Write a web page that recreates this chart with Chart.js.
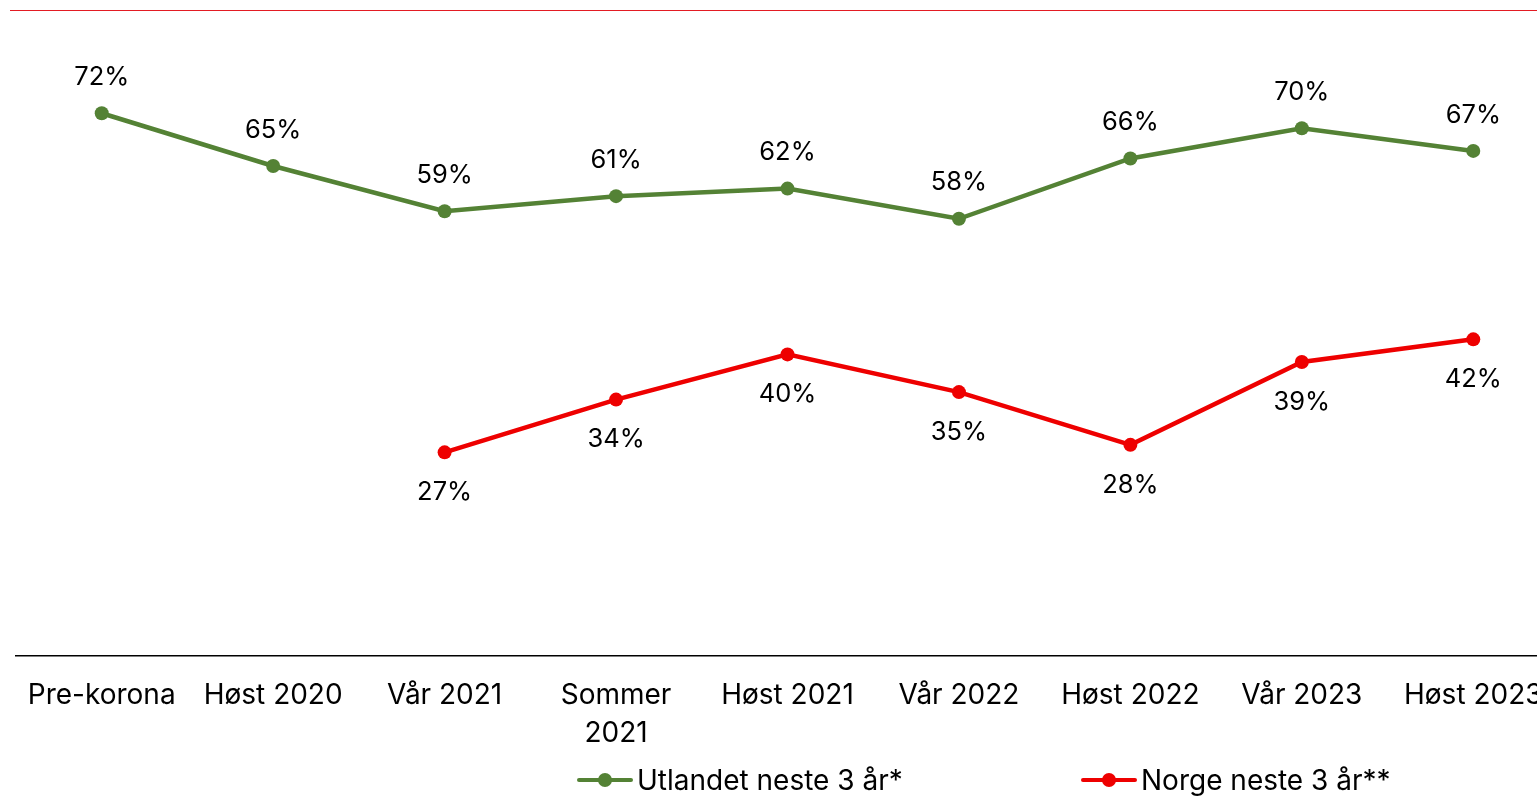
<!DOCTYPE html>
<html>
<head>
<meta charset="utf-8">
<script src="https://cdn.jsdelivr.net/npm/chart.js@4/dist/chart.umd.min.js"></script>
<style>
  html,body{margin:0;padding:0;background:#fff;overflow:hidden;width:1537px;height:796px}
  #wrap{position:absolute;left:0;top:0;width:1566px;height:796px}
  .legend{position:absolute;top:764px;display:flex;align-items:center;font-family:Inter,'Noto Sans',sans-serif;font-size:28px;line-height:32px;color:#000;white-space:nowrap}
  .mk{position:relative;width:56px;height:14px;margin-right:4px}
  .mk .ln{position:absolute;left:0;right:0;top:5px;height:4px;border-radius:2px}
  .mk .dt{position:absolute;left:21px;top:0;width:14px;height:14px;border-radius:50%}
</style>
</head>
<body>
<div id="wrap"><canvas id="chart" width="1566" height="796"></canvas></div>
<div class="legend" style="left:577px"><div class="mk"><div class="ln" style="background:#548235"></div><div class="dt" style="background:#548235"></div></div>Utlandet neste 3 år*</div>
<div class="legend" style="left:1081px"><div class="mk"><div class="ln" style="background:#ee0000"></div><div class="dt" style="background:#ee0000"></div></div>Norge neste 3 år**</div>
<script>
// categories and series (percent)
const labels = ['Pre-korona', 'Høst 2020', 'Vår 2021', ['Sommer', '2021'], 'Høst 2021', 'Vår 2022', 'Høst 2022', 'Vår 2023', 'Høst 2023'];
const utlandet = [72, 65, 59, 61, 62, 58, 66, 70, 67];
const norge = [null, null, 27, 34, 40, 35, 28, 39, 42];

const GREEN = '#548235', RED = '#ee0000';
const FONT = 'Inter, "Noto Sans", sans-serif';

// value labels: above the green line, below the red one
const valueLabels = {
  id: 'valueLabels',
  afterDatasetsDraw(chart){
    const ctx = chart.ctx;
    ctx.save();
    ctx.font = '25.5px ' + FONT;
    ctx.fillStyle = '#000';
    ctx.textAlign = 'center';
    ctx.textBaseline = 'middle';
    chart.data.datasets.forEach((ds, i) => {
      const meta = chart.getDatasetMeta(i);
      const dy = i === 0 ? -36 : 40;
      meta.data.forEach((pt, j) => {
        const v = ds.data[j];
        if(v == null) return;
        ctx.fillText(v + '%', pt.x, pt.y + dy);
      });
    });
    ctx.restore();
  }
};

// thin red rule at the top of the plot
const topRule = {
  id: 'topRule',
  afterDraw(chart){
    const ctx = chart.ctx;
    ctx.save();
    ctx.strokeStyle = '#e31b23';
    ctx.lineWidth = 1;
    ctx.beginPath();
    ctx.moveTo(10, 10.5);
    ctx.lineTo(chart.width, 10.5);
    ctx.stroke();
    ctx.restore();
  }
};

new Chart(document.getElementById('chart'), {
  type: 'line',
  data: {
    labels,
    datasets: [
      {label: 'Utlandet neste 3 år*', data: utlandet, borderColor: GREEN, backgroundColor: GREEN, borderWidth: 4.5, pointRadius: 7, pointHoverRadius: 7, pointBorderWidth: 0, tension: 0},
      {label: 'Norge neste 3 år**', data: norge, borderColor: RED, backgroundColor: RED, borderWidth: 4.5, pointRadius: 7, pointHoverRadius: 7, pointBorderWidth: 0, tension: 0}
    ]
  },
  options: {
    responsive: false,
    animation: false,
    layout: {padding: {left: 16, right: 3, top: 10, bottom: 22}},
    plugins: {legend: {display: false}, tooltip: {enabled: false}},
    scales: {
      x: {
        offset: true,
        grid: {display: false, drawTicks: false},
        border: {display: true, color: '#000', width: 1.5},
        ticks: {color: '#000', font: {family: FONT, size: 28, lineHeight: 1.36}, padding: 21, maxRotation: 0, autoSkip: false}
      },
      y: {
        display: false,
        min: 0,
        max: 85.7
      }
    }
  },
  plugins: [valueLabels, topRule]
});
</script>
</body>
</html>
